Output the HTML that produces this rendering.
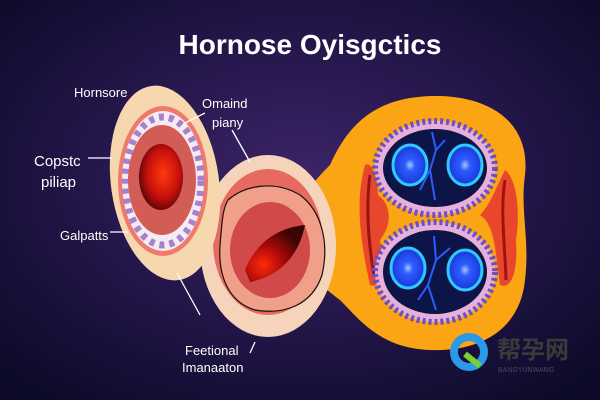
<!DOCTYPE html>
<html><head><style>
html,body{margin:0;padding:0;width:600px;height:400px;overflow:hidden;background:#120c30}
</style></head><body>
<svg width="600" height="400" viewBox="0 0 600 400" xmlns="http://www.w3.org/2000/svg" font-family="Liberation Sans, sans-serif">
<defs>
<radialGradient id="bg" cx="0.5" cy="0.45" r="0.7">
<stop offset="0" stop-color="#3d2468"/><stop offset="0.5" stop-color="#24164a"/><stop offset="1" stop-color="#0c0a28"/>
</radialGradient>
<radialGradient id="red" cx="0.55" cy="0.45" r="0.6">
<stop offset="0" stop-color="#ff3a10"/><stop offset="0.6" stop-color="#c8100c"/><stop offset="1" stop-color="#500606"/>
</radialGradient>
<radialGradient id="red2" cx="0.3" cy="0.7" r="0.7">
<stop offset="0" stop-color="#ff2a0a"/><stop offset="0.5" stop-color="#a80808"/><stop offset="1" stop-color="#3a0404"/>
</radialGradient>
<radialGradient id="blue" cx="0.5" cy="0.5" r="0.5">
<stop offset="0" stop-color="#a8c8ff"/><stop offset="0.3" stop-color="#2d5cff"/><stop offset="1" stop-color="#1a38d8"/>
</radialGradient>
</defs>
<rect width="600" height="400" fill="url(#bg)"/>
<text x="310" y="54" text-anchor="middle" font-size="28" font-weight="bold" fill="#fff">Hornose Oyisgctics</text>

<!-- orange blob -->
<path d="M330 165 C350 120 380 95 440 96 C500 98 530 130 525 175 C520 210 530 240 525 280 C520 330 480 352 430 350 C380 348 360 320 340 300 C320 285 300 270 300 230 C300 195 315 180 330 165Z" fill="#fba514"/>
<path d="M365 165 C355 200 360 240 370 285 C380 290 385 270 380 240 C392 225 392 205 378 195 C378 180 372 160 365 165Z" fill="#e9472c"/>
<path d="M370 175 C366 205 368 240 374 275" stroke="#9a1414" stroke-width="3" fill="none"/>
<path d="M505 170 C495 190 490 205 480 215 C495 225 495 250 500 285 C512 290 518 270 516 240 C520 215 518 180 505 170Z" fill="#e9472c"/>
<path d="M505 180 C500 210 505 245 506 280" stroke="#9a1414" stroke-width="3" fill="none"/>

<g>
<ellipse cx="435" cy="168" rx="60" ry="47" fill="#e8b0d8"/>
<ellipse cx="435" cy="168" rx="60" ry="47" fill="none" stroke="#6a50c8" stroke-width="6" stroke-dasharray="3 3"/>
<ellipse cx="435" cy="168" rx="52" ry="39" fill="#0c1448"/>
<ellipse cx="410" cy="165" rx="17" ry="20" fill="url(#blue)" stroke="#30c8ff" stroke-width="3"/>
<ellipse cx="465" cy="165" rx="17" ry="20" fill="url(#blue)" stroke="#30c8ff" stroke-width="3"/>
<path d="M432 132 L436 150 L430 170 L435 200 M436 150 L445 140 M430 170 L420 190" stroke="#2a5cff" stroke-width="2" fill="none"/>
</g>
<g>
<ellipse cx="435" cy="272" rx="60" ry="50" fill="#e8b0d8"/>
<ellipse cx="435" cy="272" rx="60" ry="50" fill="none" stroke="#6a50c8" stroke-width="6" stroke-dasharray="3 3"/>
<ellipse cx="435" cy="272" rx="52" ry="42" fill="#0c1448"/>
<ellipse cx="408" cy="268" rx="17" ry="20" fill="url(#blue)" stroke="#30c8ff" stroke-width="3"/>
<ellipse cx="465" cy="270" rx="17" ry="20" fill="url(#blue)" stroke="#30c8ff" stroke-width="3"/>
<path d="M434 236 L436 260 L428 285 L436 310 M436 260 L450 248 M428 285 L418 300" stroke="#2a5cff" stroke-width="2" fill="none"/>
</g>

<!-- middle circle -->
<ellipse cx="268" cy="246" rx="68" ry="91" fill="#f6d4bc"/>
<ellipse cx="268" cy="242" rx="55" ry="73" fill="#e66a60"/>
<path d="M228 200 C245 185 275 180 300 195 C320 210 330 240 322 275 C312 305 285 315 255 310 C228 302 218 275 220 245 C222 225 222 210 228 200Z" fill="#f0a088" stroke="#1a1010" stroke-width="1.2"/>
<ellipse cx="270" cy="250" rx="40" ry="48" fill="#cf4a48"/>
<path d="M245 270 C255 245 275 228 305 225 C300 250 285 275 250 282Z" fill="url(#red2)"/>

<!-- left oval -->
<ellipse cx="165" cy="183" rx="54" ry="98" fill="#f7d8ae" transform="rotate(-8 165 183)"/>
<ellipse cx="163" cy="181" rx="45" ry="75" fill="#ef7a6c"/>
<ellipse cx="163" cy="181" rx="41" ry="70" fill="#f4ecf2"/>
<ellipse cx="163" cy="181" rx="38" ry="64" fill="none" stroke="#a880cc" stroke-width="7" stroke-dasharray="5 5"/>
<ellipse cx="162" cy="180" rx="34" ry="55" fill="#d25c56"/>
<ellipse cx="161" cy="177" rx="22" ry="33" fill="url(#red)"/>

<!-- callouts -->
<g stroke="#fff" stroke-width="1.3" fill="none">
<line x1="88" y1="158" x2="112" y2="158"/>
<line x1="110" y1="232" x2="128" y2="232"/>
<line x1="205" y1="113" x2="183" y2="124"/>
<line x1="232" y1="130" x2="250" y2="162"/>
<line x1="177" y1="273" x2="200" y2="315"/>
<line x1="255" y1="342" x2="250" y2="353"/>
</g>
<g fill="#fff" font-size="13">
<text x="74" y="97">Hornsore</text>
<text x="202" y="108">Omaind</text>
<text x="212" y="127">piany</text>
<text x="34" y="166" font-size="15">Copstc</text>
<text x="41" y="187" font-size="15">piliap</text>
<text x="60" y="240">Galpatts</text>
<text x="185" y="355">Feetional</text>
<text x="182" y="372">Imanaaton</text>
</g>

<!-- watermark -->
<circle cx="469" cy="352" r="15" fill="none" stroke="#2a9ae8" stroke-width="8"/>
<path d="M465 354 L480 366" stroke="#7ad030" stroke-width="6"/>
<text x="497" y="358" font-size="24" font-weight="bold" fill="#3a3a3a" font-family="Noto Sans CJK SC, sans-serif">帮孕网</text>
<text x="498" y="372" font-size="7" fill="#4a4a5a">BANGYUNWANG</text>
</svg>
</body></html>
